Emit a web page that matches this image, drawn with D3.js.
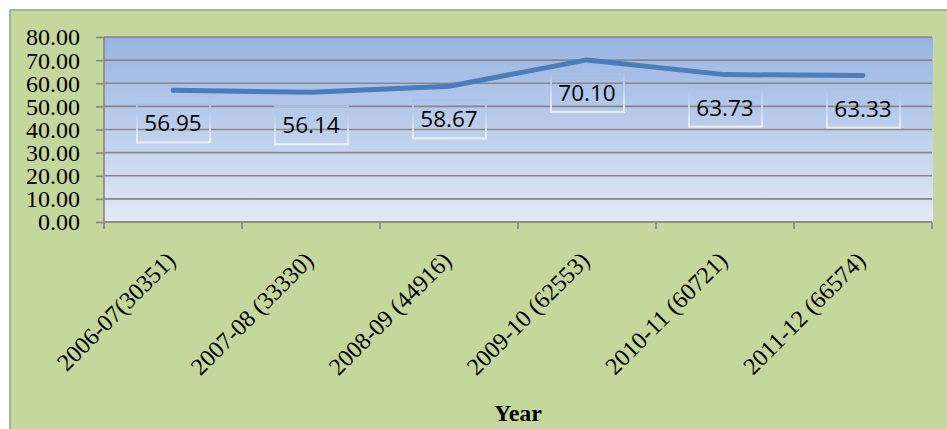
<!DOCTYPE html>
<html><head><meta charset="utf-8">
<script src="https://cdn.jsdelivr.net/npm/d3@7"></script>
<style>html,body{margin:0;padding:0;background:#fff;}svg{display:block;}
.serif{font-family:"Liberation Serif","Times New Roman",serif;}
.lbl{font-family:"Open Sans","Noto Sans",sans-serif;}
</style>
</head><body>
<svg id="chart" width="947" height="429"></svg>
<script>
const categories = ["2006-07(30351)", "2007-08 (33330)", "2008-09 (44916)", "2009-10 (62553)", "2010-11 (60721)", "2011-12 (66574)"];
const values = [56.95, 56.14, 58.67, 70.10, 63.73, 63.33];
const yTicks = [0, 10, 20, 30, 40, 50, 60, 70, 80];
const xTitle = "Year";

const svg = d3.select("#chart");
const W = 947, H = 429;
const plot = {left: 104, right: 932, top: 37, bottom: 222};

// outer chart area
svg.append("rect").attr("x", 10).attr("y", 10).attr("width", W - 9).attr("height", H - 9)
  .attr("fill", "#c4d79c").attr("stroke", "#9a9a9a").attr("stroke-width", 1.5);

const defs = svg.append("defs");
const grad = defs.append("linearGradient").attr("id", "pg").attr("x1", 0).attr("y1", 0).attr("x2", 0).attr("y2", 1);
grad.append("stop").attr("offset", "0%").attr("stop-color", "#97b4e2");
grad.append("stop").attr("offset", "100%").attr("stop-color", "#e3e9f5");
const lg = defs.append("linearGradient").attr("id", "lb").attr("x1", 0).attr("y1", 0).attr("x2", 0).attr("y2", 1);
lg.append("stop").attr("offset", "0%").attr("stop-color", "#aac2e8");
lg.append("stop").attr("offset", "100%").attr("stop-color", "#eef2fa");

const x = d3.scaleBand().domain(categories).range([plot.left, plot.right]).padding(0);
const y = d3.scaleLinear().domain([0, 80]).range([plot.bottom, plot.top]);

svg.append("rect").attr("x", plot.left).attr("y", plot.top)
  .attr("width", plot.right - plot.left + 1).attr("height", plot.bottom - plot.top)
  .attr("fill", "url(#pg)");

// gridlines
svg.append("g").selectAll("line").data(yTicks).join("line")
  .attr("x1", plot.left).attr("x2", plot.right)
  .attr("y1", d => y(d)).attr("y2", d => y(d))
  .attr("stroke", "#878787").attr("stroke-width", 1.6);

// y axis
const yAxis = svg.append("g").attr("transform", `translate(${plot.left},0)`)
  .call(d3.axisLeft(y).tickValues(yTicks).tickFormat(d3.format(".2f")).tickSize(8).tickPadding(16));
yAxis.attr("font-family", null).attr("font-size", null);
yAxis.select(".domain").attr("stroke", "#878787").attr("stroke-width", 1.6).attr("d", `M0,${plot.top}V${plot.bottom + 7}`);
yAxis.selectAll(".tick line").attr("stroke", "#878787").attr("stroke-width", 1.6);
yAxis.selectAll(".tick text").attr("class", "serif")
  .style("font-size", "24px").attr("fill", "#000").attr("dy", "0.33em");

// x axis line + boundary ticks
const bounds = categories.map(c => x(c)).concat([plot.right]);
svg.append("line").attr("x1", plot.left).attr("x2", plot.right).attr("y1", plot.bottom).attr("y2", plot.bottom)
  .attr("stroke", "#878787").attr("stroke-width", 1.6);
svg.append("g").selectAll("line").data(bounds).join("line")
  .attr("x1", d => d).attr("x2", d => d).attr("y1", plot.bottom).attr("y2", plot.bottom + 7)
  .attr("stroke", "#878787").attr("stroke-width", 1.6);

// x labels
svg.append("g").selectAll("text").data(categories).join("text")
  .attr("class", "serif")
  .attr("transform", d => `translate(${x(d) + x.bandwidth() / 2 + 4},${plot.bottom + 40}) rotate(-45)`)
  .attr("text-anchor", "end")
  .style("font-size", "24px").attr("fill", "#000")
  .text(d => d);

// x title
svg.append("text").attr("class", "serif").attr("x", (plot.left + plot.right) / 2).attr("y", 421)
  .attr("text-anchor", "middle")
  .style("font-weight", "bold").style("font-size", "24px").attr("fill", "#000").text(xTitle);

// line
const cx = (d, i) => x(categories[i]) + x.bandwidth() / 2;
svg.append("path").datum(values)
  .attr("d", d3.line().x(cx).y(d => y(d)))
  .attr("fill", "none").attr("stroke", "#4a7ebb").attr("stroke-width", 5)
  .attr("stroke-linecap", "round").attr("stroke-linejoin", "round");

// data labels
const lab = svg.append("g").selectAll("g").data(values).join("g")
  .attr("transform", (d, i) => `translate(${cx(d, i)},${y(d) + 33})`);
lab.append("rect").attr("x", -36).attr("y", -19).attr("width", 73).attr("height", 38)
  .attr("fill", "none").attr("stroke", "url(#lb)").attr("stroke-width", 2).attr("opacity", 0.9);
lab.append("text").attr("class", "lbl").attr("text-anchor", "middle").attr("dy", "0.36em")
  .style("font-size", "22.5px").attr("fill", "#000")
  .text(d => d.toFixed(2));
</script>
</body></html>
